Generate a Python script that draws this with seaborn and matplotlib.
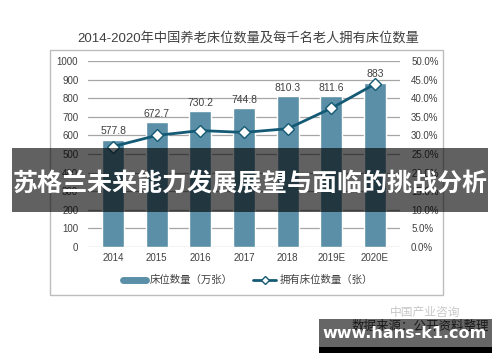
import matplotlib
matplotlib.use("Agg")
import matplotlib.pyplot as plt
import seaborn as sns
import pandas as pd
from matplotlib.patches import Rectangle
from matplotlib.lines import Line2D
from matplotlib.ticker import FuncFormatter

years = ["2014", "2015", "2016", "2017", "2018", "2019E", "2020E"]
beds = [577.8, 672.7, 730.2, 744.8, 810.3, 811.6, 883]
per_thousand = [0.270, 0.300, 0.313, 0.308, 0.318, 0.373, 0.438]
left_ticks = [0, 100, 200, 300, 400, 500, 600, 700, 800, 900, 1000]
right_ticks = [0.0, 0.05, 0.10, 0.15, 0.20, 0.25, 0.30, 0.35, 0.40, 0.45, 0.50]
title = "2014-2020年中国养老床位数量及每千名老人拥有床位数量"
legend_labels = ["床位数量（万张）", "拥有床位数量（张）"]
banner = "苏格兰未来能力发展展望与面临的挑战分析"
source = "数据来源：公开资料整理"
site = "www.hans-k1.com"

sns.set_theme(style="white")
plt.rcParams["font.family"] = ["Liberation Sans", "Noto Sans CJK SC", "DejaVu Sans"]

W, H = 500, 362
fig = plt.figure(figsize=(5, 3.62), dpi=100)
fig.patch.set_facecolor("white")

def fx(x): return x / W
def fy(y): return 1 - y / H

# chart frame
fig.patches.append(Rectangle((fx(50), fy(295)), fx(443) - fx(50), fy(50) - fy(295),
                             transform=fig.transFigure, fill=False, edgecolor="#BDBDBD", lw=1.0))

ax = fig.add_axes([fx(88), fy(247), fx(400) - fx(88), fy(61) - fy(247)])
df = pd.DataFrame({"year": years, "beds": beds, "rate": per_thousand})
bar_color = "#5B8FA8"
line_color = "#145A74"
sns.barplot(data=df, x="year", y="beds", color=bar_color, width=0.5, ax=ax, saturation=1)
ax.set_ylim(0, 1000)
ax.set_yticks(left_ticks)
ax.set_xlabel("")
ax.set_ylabel("")
for s in ax.spines.values():
    s.set_visible(False)
ax.grid(axis="y", color="#A6A6A6", lw=0.9)
ax.set_axisbelow(True)
ax.tick_params(axis="both", length=0, labelsize=7, colors="#404040", pad=7)
ax.tick_params(axis="x", pad=4)
for i, v in enumerate(beds):
    ax.text(i, v + 18, f"{v:g}", ha="center", va="bottom", fontsize=7.5, color="#404040")

ax2 = ax.twinx()
sns.lineplot(data=df, x="year", y="rate", ax=ax2, color=line_color, lw=2,
             marker="D", markersize=6, markerfacecolor="white", markeredgecolor=line_color,
             markeredgewidth=1.0, sort=False)
ax2.set_ylim(0, 0.5)
ax2.set_yticks(right_ticks)
ax2.yaxis.set_major_formatter(FuncFormatter(lambda v, p: f"{v*100:.1f}%"))
ax2.set_ylabel("")
ax2.set_xlabel("")
for s in ax2.spines.values():
    s.set_visible(False)
ax2.tick_params(axis="y", length=0, labelsize=7, colors="#404040", pad=8)
ax2.grid(False)

fig.text(fx(248), fy(38), title, ha="center", va="center", fontsize=9.5, color="#404040",
         family=["Liberation Sans", "Noto Sans CJK SC"])

handles = [Line2D([0], [0], color=bar_color, lw=5),
           Line2D([0], [0], color=line_color, lw=2, marker="D", markersize=4,
                  markerfacecolor="white", markeredgecolor=line_color)]
fig.legend(handles, legend_labels, loc="center", bbox_to_anchor=(fx(248), fy(280)), ncol=2,
           frameon=False, fontsize=7.5, handlelength=2.2, columnspacing=2.0, handletextpad=0.3,
           labelcolor="#404040")

# watermark "中国产业咨询" faint
fig.text(fx(425), fy(313), "中国产业咨询", ha="center", va="center", fontsize=8.5, color="#C8C8C8")
fig.text(fx(420), fy(327), source, ha="center", va="center", fontsize=9, color="#404040")

# banner overlay
fig.patches.append(Rectangle((fx(12), fy(212)), fx(488) - fx(12), fy(148) - fy(212),
                             transform=fig.transFigure, facecolor="black", alpha=0.62,
                             edgecolor="none", zorder=10))
fig.text(fx(250), fy(184), banner, ha="center", va="center", fontsize=18, fontweight="bold",
         color="white", family=["Noto Sans CJK SC"], zorder=11)

# bottom site overlay
fig.patches.append(Rectangle((fx(319), fy(347)), fx(492) - fx(319), fy(319) - fy(347),
                             transform=fig.transFigure, facecolor="black", alpha=0.6,
                             edgecolor="none", zorder=10))
fig.patches.append(Rectangle((fx(319), fy(353)), fx(492) - fx(319), fy(347) - fy(353),
                             transform=fig.transFigure, facecolor="black", alpha=1.0,
                             edgecolor="none", zorder=10))
fig.text(fx(405), fy(334), site, ha="center", va="center", fontsize=11.5, fontweight="bold",
         color="white", family=["DejaVu Sans"], zorder=11)

fig.savefig("out.png", dpi=100, facecolor="white")
